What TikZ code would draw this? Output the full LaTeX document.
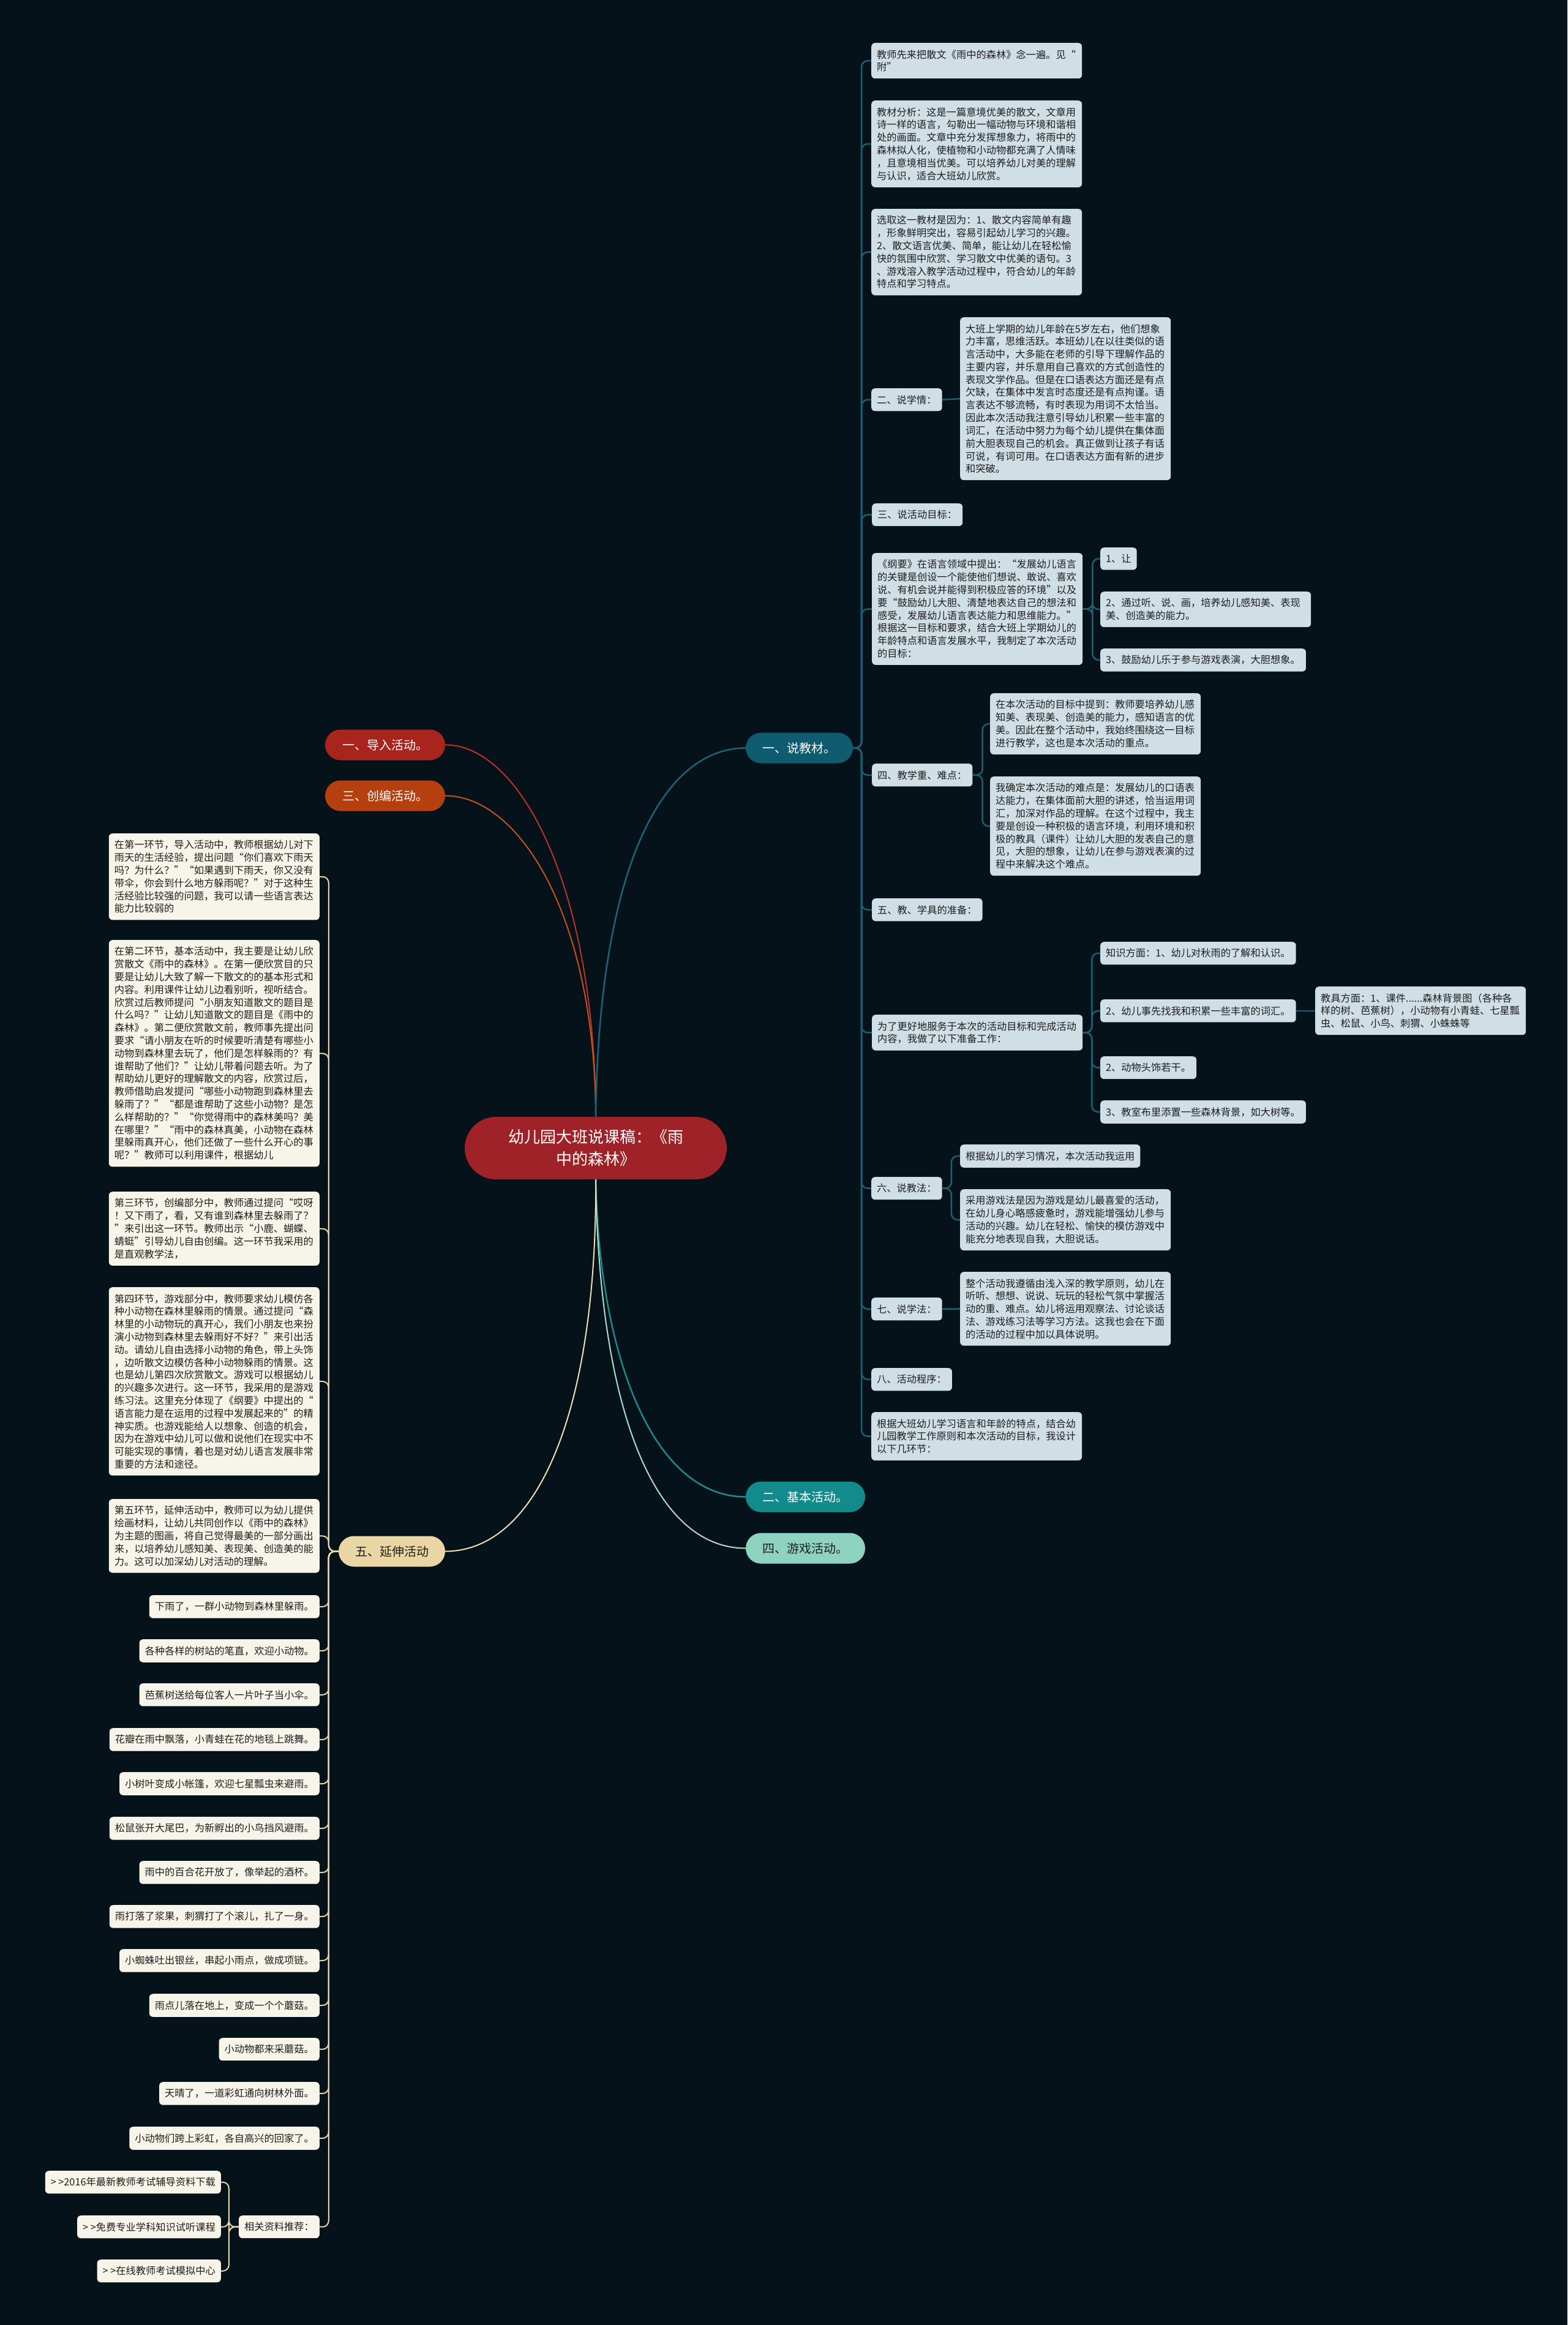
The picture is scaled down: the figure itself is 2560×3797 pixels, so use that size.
\documentclass[tikz,border=0pt]{standalone}
\usepackage{fontspec}
\setmainfont{Noto Sans CJK SC}
\definecolor{bgc}{HTML}{06121A}
\definecolor{rbox}{HTML}{CFDFE5}
\definecolor{lbox}{HTML}{F7F4EA}
\definecolor{txt}{HTML}{1E1E1E}
\definecolor{tealln}{HTML}{1D5F72}
\definecolor{beigeln}{HTML}{E6D6A6}
\definecolor{cred}{HTML}{9E2228}
\definecolor{cone}{HTML}{0F5B70}
\definecolor{ctwo}{HTML}{138A8C}
\definecolor{cfour}{HTML}{8ED3C0}
\definecolor{cdao}{HTML}{A8241C}
\definecolor{cchuang}{HTML}{B53F0E}
\definecolor{cfive}{HTML}{EAD6A2}
\definecolor{lred}{HTML}{B8342A}
\definecolor{lorange}{HTML}{C8501A}
\definecolor{lteal}{HTML}{1C6378}
\definecolor{lteal2}{HTML}{1A8A8C}
\definecolor{lmint}{HTML}{A6E0CF}
\definecolor{lbeige}{HTML}{EEDFB0}
\tikzset{
  base/.style={font=\fontsize{16.25}{20.8}\selectfont, text=txt, inner xsep=9pt, inner ysep=11pt, rounded corners=6pt},
  rb/.style={base, fill=rbox},
  lb/.style={base, fill=lbox},
  rbw/.style={rb, text width=326pt, align=left},
  lbw/.style={lb, text width=326pt, align=left},
  mainnode/.style={font=\fontsize{20}{24}\selectfont, minimum height=50pt, rounded corners=25pt, inner xsep=0pt},
  rline/.style={draw=tealln, line width=2.5pt, rounded corners=10pt},
  lline/.style={draw=beigeln, line width=2pt, rounded corners=10pt},
}
\begin{document}
\begin{tikzpicture}[x=1pt,y=-1pt]
\fill[bgc] (0,0) rectangle (2560,3797);
\useasboundingbox (0,0) rectangle (2560,3797);

% center and main branches
\node[fill=cred, text=white, font=\fontsize{26}{36}\selectfont, minimum width=428pt, minimum height=102pt, rounded corners=51pt, align=center] (ctr) at (973,1875) {幼儿园大班说课稿：《雨\\中的森林》};
\node[mainnode, fill=cone, text=white, minimum width=175pt] (m1) at (1305.5,1221.5) {一、说教材。};
\node[mainnode, fill=ctwo, text=white, minimum width=195pt] (m2) at (1315.5,2444.5) {二、基本活动。};
\node[mainnode, fill=cfour, text=txt, minimum width=195pt] (m4) at (1315.5,2528.5) {四、游戏活动。};
\node[mainnode, fill=cdao, text=white, minimum width=196pt] (md) at (629,1216.5) {一、导入活动。};
\node[mainnode, fill=cchuang, text=white, minimum width=196pt] (mc) at (629,1299.5) {三、创编活动。};
\node[mainnode, fill=cfive, text=txt, minimum width=174pt] (m5) at (640,2533.5) {五、延伸活动};

\draw[lred, line width=2pt] (md.east) .. controls (850,1216) and (972,1450) .. (ctr.north);
\draw[lorange, line width=2pt] (mc.east) .. controls (850,1300) and (972,1500) .. (ctr.north);
\draw[lteal, line width=2.5pt] (ctr.north) .. controls (978,1420) and (1080,1222) .. (m1.west);
\draw[lteal2, line width=2.5pt] (ctr.south) .. controls (978,2200) and (1060,2444) .. (m2.west);
\draw[lmint, line width=2pt] (ctr.south) .. controls (978,2280) and (1060,2528) .. (m4.west);
\draw[lbeige, line width=2pt] (ctr.south) .. controls (975,2300) and (880,2533) .. (m5.east);

% right side
\node[rbw, anchor=north west] (r1) at (1423,70) {教师先来把散文《雨中的森林》念一遍。见“\\附”};
\node[rbw, anchor=north west] (r2) at (1423,164) {教材分析：这是一篇意境优美的散文，文章用\\诗一样的语言，勾勒出一幅动物与环境和谐相\\处的画面。文章中充分发挥想象力，将雨中的\\森林拟人化，使植物和小动物都充满了人情味\\，且意境相当优美。可以培养幼儿对美的理解\\与认识，适合大班幼儿欣赏。};
\node[rbw, anchor=north west] (r3) at (1423,341) {选取这一教材是因为：1、散文内容简单有趣\\，形象鲜明突出，容易引起幼儿学习的兴趣。\\2、散文语言优美、简单，能让幼儿在轻松愉\\快的氛围中欣赏、学习散文中优美的语句。3\\、游戏溶入教学活动过程中，符合幼儿的年龄\\特点和学习特点。};
\node[rb, anchor=north west] (r4) at (1423,634) {二、说学情：};
\node[rbw, anchor=north west] (r4a) at (1568,518) {大班上学期的幼儿年龄在5岁左右，他们想象\\力丰富，思维活跃。本班幼儿在以往类似的语\\言活动中，大多能在老师的引导下理解作品的\\主要内容，并乐意用自己喜欢的方式创造性的\\表现文学作品。但是在口语表达方面还是有点\\欠缺，在集体中发言时态度还是有点拘谨。语\\言表达不够流畅，有时表现为用词不太恰当。\\因此本次活动我注意引导幼儿积累一些丰富的\\词汇，在活动中努力为每个幼儿提供在集体面\\前大胆表现自己的机会。真正做到让孩子有话\\可说，有词可用。在口语表达方面有新的进步\\和突破。};
\node[rb, anchor=north west] (r5) at (1424,822) {三、说活动目标：};
\node[rbw, anchor=north west] (r6) at (1424,903) {《纲要》在语言领域中提出：“发展幼儿语言\\的关键是创设一个能使他们想说、敢说、喜欢\\说、有机会说并能得到积极应答的环境”以及\\要“鼓励幼儿大胆、清楚地表达自己的想法和\\感受，发展幼儿语言表达能力和思维能力。”\\根据这一目标和要求，结合大班上学期幼儿的\\年龄特点和语言发展水平，我制定了本次活动\\的目标：};
\node[rb, anchor=north west] (r6a) at (1797,894) {1、让};
\node[rbw, anchor=north west] (r6b) at (1797,966) {2、通过听、说、画，培养幼儿感知美、表现\\美、创造美的能力。};
\node[rb, anchor=north west] (r6c) at (1797,1059) {3、鼓励幼儿乐于参与游戏表演，大胆想象。};
\node[rb, anchor=north west] (r7) at (1424,1247) {四、教学重、难点：};
\node[rbw, anchor=north west] (r7a) at (1617,1132) {在本次活动的目标中提到：教师要培养幼儿感\\知美、表现美、创造美的能力，感知语言的优\\美。因此在整个活动中，我始终围绕这一目标\\进行教学，这也是本次活动的重点。};
\node[rbw, anchor=north west] (r7b) at (1617,1268) {我确定本次活动的难点是：发展幼儿的口语表\\达能力，在集体面前大胆的讲述，恰当运用词\\汇，加深对作品的理解。在这个过程中，我主\\要是创设一种积极的语言环境，利用环境和积\\极的教具（课件）让幼儿大胆的发表自己的意\\见，大胆的想象，让幼儿在参与游戏表演的过\\程中来解决这个难点。};
\node[rb, anchor=north west] (r8) at (1424,1467) {五、教、学具的准备：};
\node[rbw, anchor=north west] (r9) at (1424,1657) {为了更好地服务于本次的活动目标和完成活动\\内容，我做了以下准备工作：};
\node[rb, anchor=north west] (r9a) at (1797,1538) {知识方面：1、幼儿对秋雨的了解和认识。};
\node[rb, anchor=north west] (r9b) at (1797,1632) {2、幼儿事先找我和积累一些丰富的词汇。};
\node[rbw, anchor=north west] (r9e) at (2148,1611) {教具方面：1、课件......森林背景图（各种各\\样的树、芭蕉树），小动物有小青蛙、七星瓢\\虫、松鼠、小鸟、刺猬、小蛛蛛等};
\node[rb, anchor=north west] (r9c) at (1797,1725) {2、动物头饰若干。};
\node[rb, anchor=north west] (r9d) at (1797,1797) {3、教室布里添置一些森林背景，如大树等。};
\node[rb, anchor=north west] (r10) at (1423,1922) {六、说教法：};
\node[rb, anchor=north west] (r10a) at (1568,1869) {根据幼儿的学习情况，本次活动我运用};
\node[rbw, anchor=north west] (r10b) at (1568,1942) {采用游戏法是因为游戏是幼儿最喜爱的活动，\\在幼儿身心略感疲惫时，游戏能增强幼儿参与\\活动的兴趣。幼儿在轻松、愉快的模仿游戏中\\能充分地表现自我，大胆说话。};
\node[rb, anchor=north west] (r11) at (1423,2119) {七、说学法：};
\node[rbw, anchor=north west] (r11a) at (1568,2077) {整个活动我遵循由浅入深的教学原则，幼儿在\\听听、想想、说说、玩玩的轻松气氛中掌握活\\动的重、难点。幼儿将运用观察法、讨论谈话\\法、游戏练习法等学习方法。这我也会在下面\\的活动的过程中加以具体说明。};
\node[rb, anchor=north west] (r12) at (1423,2234) {八、活动程序：};
\node[rbw, anchor=north west] (r13) at (1423,2306) {根据大班幼儿学习语言和年龄的特点，结合幼\\儿园教学工作原则和本次活动的目标，我设计\\以下几环节：};

\foreach \c in {r1,r2,r3,r4,r5,r6,r7,r8,r9,r10,r11,r12,r13}
  \draw[rline] (m1.east) -- ++(14,0) |- (\c.west);
\draw[rline] (r4.east) -- (r4a.west);
\foreach \c in {r6a,r6b,r6c} \draw[rline] (r6.east) -- ++(16,0) |- (\c.west);
\foreach \c in {r7a,r7b} \draw[rline] (r7.east) -- ++(16,0) |- (\c.west);
\foreach \c in {r9a,r9b,r9c,r9d} \draw[rline] (r9.east) -- ++(15,0) |- (\c.west);
\draw[rline] (r9b.east) -- (r9b.east -| r9e.west);
\foreach \c in {r10a,r10b} \draw[rline] (r10.east) -- ++(15,0) |- (\c.west);
\draw[rline] (r11.east) -- (r11a.west);

% left side
\node[lbw, anchor=north east] (l1) at (522,1361) {在第一环节，导入活动中，教师根据幼儿对下\\雨天的生活经验，提出问题“你们喜欢下雨天\\吗？为什么？”“如果遇到下雨天，你又没有\\带伞，你会到什么地方躲雨呢？”对于这种生\\活经验比较强的问题，我可以请一些语言表达\\能力比较弱的};
\node[lbw, anchor=north east] (l2) at (522,1535) {在第二环节，基本活动中，我主要是让幼儿欣\\赏散文《雨中的森林》。在第一便欣赏目的只\\要是让幼儿大致了解一下散文的的基本形式和\\内容。利用课件让幼儿边看别听，视听结合。\\欣赏过后教师提问“小朋友知道散文的题目是\\什么吗？”让幼儿知道散文的题目是《雨中的\\森林》。第二便欣赏散文前，教师事先提出问\\要求“请小朋友在听的时候要听清楚有哪些小\\动物到森林里去玩了，他们是怎样躲雨的？有\\谁帮助了他们？”让幼儿带着问题去听。为了\\帮助幼儿更好的理解散文的内容，欣赏过后，\\教师借助启发提问“哪些小动物跑到森林里去\\躲雨了？”“都是谁帮助了这些小动物？是怎\\么样帮助的？”“你觉得雨中的森林美吗？美\\在哪里？”“雨中的森林真美，小动物在森林\\里躲雨真开心，他们还做了一些什么开心的事\\呢？”教师可以利用课件，根据幼儿};
\node[lbw, anchor=north east] (l3) at (522,1946) {第三环节，创编部分中，教师通过提问“哎呀\\！又下雨了，看，又有谁到森林里去躲雨了？\\”来引出这一环节。教师出示“小鹿、蝴蝶、\\蜻蜓”引导幼儿自由创编。这一环节我采用的\\是直观教学法，};
\node[lbw, anchor=north east] (l4) at (522,2102) {第四环节，游戏部分中，教师要求幼儿模仿各\\种小动物在森林里躲雨的情景。通过提问“森\\林里的小动物玩的真开心，我们小朋友也来扮\\演小动物到森林里去躲雨好不好？”来引出活\\动。请幼儿自由选择小动物的角色，带上头饰\\，边听散文边模仿各种小动物躲雨的情景。这\\也是幼儿第四次欣赏散文。游戏可以根据幼儿\\的兴趣多次进行。这一环节，我采用的是游戏\\练习法。这里充分体现了《纲要》中提出的“\\语言能力是在运用的过程中发展起来的”的精\\神实质。也游戏能给人以想象、创造的机会，\\因为在游戏中幼儿可以做和说他们在现实中不\\可能实现的事情，着也是对幼儿语言发展非常\\重要的方法和途径。};
\node[lbw, anchor=north east] (l5) at (522,2448) {第五环节，延伸活动中，教师可以为幼儿提供\\绘画材料，让幼儿共同创作以《雨中的森林》\\为主题的图画，将自己觉得最美的一部分画出\\来，以培养幼儿感知美、表现美、创造美的能\\力。这可以加深幼儿对活动的理解。};
\node[lb, anchor=north east] (s1) at (522,2605) {下雨了，一群小动物到森林里躲雨。};
\node[lb, anchor=north east] (s2) at (522,2677) {各种各样的树站的笔直，欢迎小动物。};
\node[lb, anchor=north east] (s3) at (522,2749) {芭蕉树送给每位客人一片叶子当小伞。};
\node[lb, anchor=north east] (s4) at (522,2822) {花瓣在雨中飘落，小青蛙在花的地毯上跳舞。};
\node[lb, anchor=north east] (s5) at (522,2894) {小树叶变成小帐篷，欢迎七星瓢虫来避雨。};
\node[lb, anchor=north east] (s6) at (522,2967) {松鼠张开大尾巴，为新孵出的小鸟挡风避雨。};
\node[lb, anchor=north east] (s7) at (522,3039) {雨中的百合花开放了，像举起的酒杯。};
\node[lb, anchor=north east] (s8) at (522,3111) {雨打落了浆果，刺猬打了个滚儿，扎了一身。};
\node[lb, anchor=north east] (s9) at (522,3183) {小蜘蛛吐出银丝，串起小雨点，做成项链。};
\node[lb, anchor=north east] (s10) at (522,3256) {雨点儿落在地上，变成一个个蘑菇。};
\node[lb, anchor=north east] (s11) at (522,3328) {小动物都来采蘑菇。};
\node[lb, anchor=north east] (s12) at (522,3400) {天晴了，一道彩虹通向树林外面。};
\node[lb, anchor=north east] (s13) at (522,3473) {小动物们跨上彩虹，各自高兴的回家了。};
\node[lb, anchor=north east] (s14) at (522,3618) {相关资料推荐：};
\node[lb, anchor=north east] (q1) at (361,3545) {> >2016年最新教师考试辅导资料下载};
\node[lb, anchor=north east] (q2) at (361,3618) {> >免费专业学科知识试听课程};
\node[lb, anchor=north east] (q3) at (361,3690) {> >在线教师考试模拟中心};

\foreach \c in {l1,l2,l3,l4,l5,s1,s2,s3,s4,s5,s6,s7,s8,s9,s10,s11,s12,s13,s14}
  \draw[lline] (m5.west) -- ++(-16,0) |- (\c.east);
\foreach \c in {q1,q2,q3} \draw[lline] (s14.west) -- ++(-16,0) |- (\c.east);
\end{tikzpicture}
\end{document}
